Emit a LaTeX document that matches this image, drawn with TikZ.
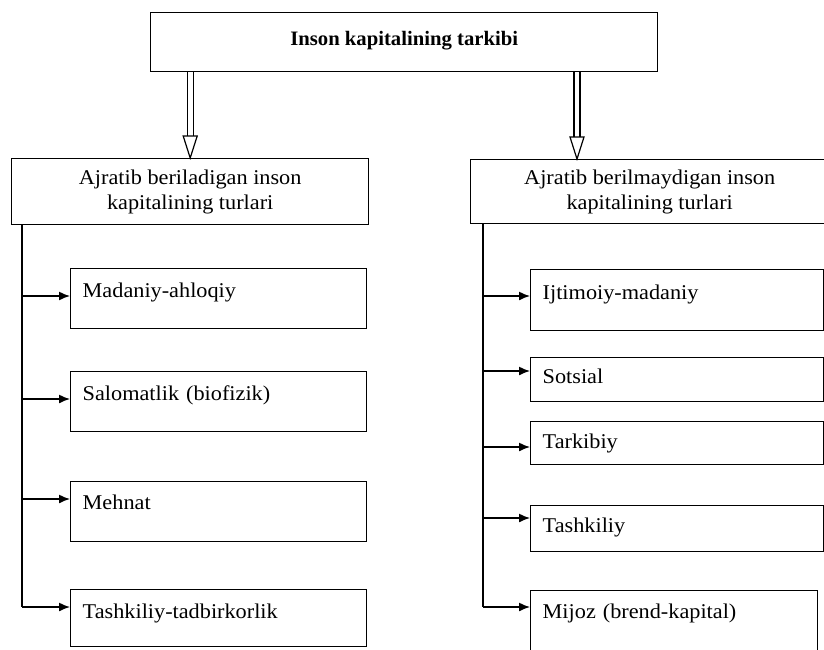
\documentclass[tikz,border=0pt]{standalone}
\usepackage{fontspec}
\setmainfont{Liberation Serif}[FakeStretch=1.06]
\newfontfamily\titlefont{Liberation Serif}[FakeStretch=1.01]
\usetikzlibrary{arrows.meta,calc}
\begin{document}
\begin{tikzpicture}[x=1pt,y=-1pt,
  every node/.style={font=\fontsize{21}{25}\selectfont},
  frame/.style={draw, line width=1.4pt},
  itembox/.style={frame, anchor=north west, inner xsep=12pt, inner ysep=0pt, align=left},
  headbox/.style={frame, anchor=north west, inner sep=0pt, align=center},
  line/.style={line width=1.4pt},
  arr/.style={line width=1.4pt, -{Latex[length=11pt,width=9pt]}},
  dbl/.style={line width=1.2pt}
]
\useasboundingbox (0,0) rectangle (824,649);
\clip (0,0) rectangle (824,649);

% title
\node[frame, anchor=north west, inner xsep=0pt, inner ysep=0pt, minimum width=507pt,
      text height=33pt, text depth=26pt, font={\titlefont\bfseries\fontsize{20.5}{24}\selectfont}]
  (top) at (150,12) {Inson kapitalining tarkibi};

% headers
\node[headbox, minimum width=357pt, minimum height=66pt] (lhead) at (11,158)
  {Ajratib beriladigan inson\\kapitalining turlari};
\node[headbox, minimum width=358pt, minimum height=64pt] (rhead) at (470,159)
  {Ajratib berilmaydigan inson\\kapitalining turlari};

% double arrows
\coordinate (lsrc) at (top.south -| lhead.north);
\coordinate (ltip) at (lhead.north);
\coordinate (rsrc) at (577,71);
\coordinate (rtip) at (577,159);
\foreach \s/\t in {lsrc/ltip, rsrc/rtip}{
  \draw[dbl] ($(\s)+(-3,0)$) -- ($(\t)+(-3,-22)$);
  \draw[dbl] ($(\s)+(3,0)$) -- ($(\t)+(3,-22)$);
  \draw[dbl, fill=white, line join=miter] ($(\t)+(-7,-22)$) -- ($(\t)+(7,-22)$) -- (\t) -- cycle;
}

% left items
\node[itembox, text width=272pt, text height=29pt, text depth=31pt] (b1) at (70,268) {Madaniy-ahloqiy};
\node[itembox, text width=272pt, text height=29pt, text depth=31pt] (b2) at (70,371) {Salomatlik (biofizik)};
\node[itembox, text width=272pt, text height=28pt, text depth=32pt] (b3) at (70,481) {Mehnat};
\node[itembox, text width=272pt, text height=29pt, text depth=28pt] (b4) at (70,589) {Tashkiliy-tadbirkorlik};

% right items
\node[itembox, text width=269pt, text height=30pt, text depth=31pt] (r1) at (530,269) {Ijtimoiy-madaniy};
\node[itembox, text width=269pt, text height=26pt, text depth=18pt] (r2) at (530,357) {Sotsial};
\node[itembox, text width=269pt, text height=27pt, text depth=16pt] (r3) at (530,421) {Tarkibiy};
\node[itembox, text width=269pt, text height=27pt, text depth=19pt] (r4) at (530,505) {Tashkiliy};
\node[itembox, text width=263pt, text height=28pt, text depth=40pt] (r5) at (530,590) {Mijoz (brend-kapital)};

% left spine and arrows
\coordinate (ltop) at ([xshift=11pt]lhead.south west);
\coordinate (la1) at (22,296);
\coordinate (la2) at (22,399);
\coordinate (la3) at (22,499);
\coordinate (la4) at (22,607);
\draw[line] (ltop) -- (la4);
\foreach \a/\b in {la1/b1, la2/b2, la3/b3, la4/b4}
  \draw[arr] (\a) -- (\a -| \b.west);

% right spine and arrows
\coordinate (rtop) at ([xshift=13pt]rhead.south west);
\coordinate (ra1) at (483,296);
\coordinate (ra2) at (483,371);
\coordinate (ra3) at (483,447);
\coordinate (ra4) at (483,518);
\coordinate (ra5) at (483,607);
\draw[line] (rtop) -- (ra5);
\foreach \a/\b in {ra1/r1, ra2/r2, ra3/r3, ra4/r4, ra5/r5}
  \draw[arr] (\a) -- (\a -| \b.west);
\end{tikzpicture}
\end{document}
